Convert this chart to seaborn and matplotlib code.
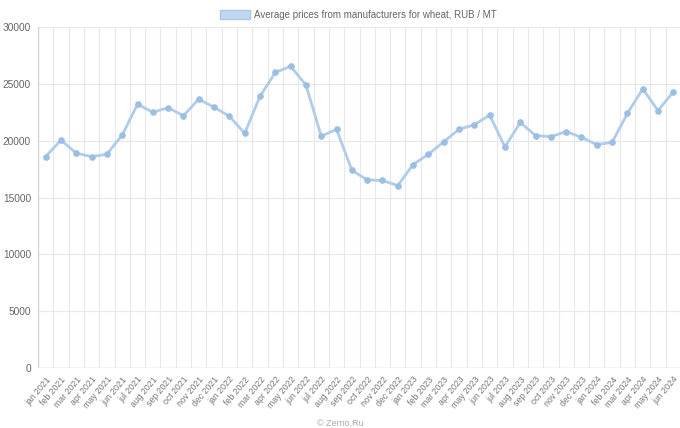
import pandas as pd
import matplotlib
matplotlib.use("Agg")
import matplotlib.pyplot as plt
import matplotlib.patches as mpatches
import seaborn as sns

# data
months = ["jan", "feb", "mar", "apr", "may", "jun", "jul", "aug", "sep", "oct", "nov", "dec"]
labels = [f"{m} {y}" for y in (2021, 2022, 2023) for m in months] + \
         [f"{m} 2024" for m in months[:6]]

prices = [18600, 20050, 18900, 18600, 18800, 20500, 23200, 22500, 22900, 22200, 23650, 22950,
          22150, 20650, 23900, 26000, 26550, 24900, 20400, 21000, 17400, 16550, 16500, 16050,
          17900, 18800, 19900, 21000, 21400, 22250, 19450, 21600, 20450, 20350, 20800, 20300,
          19650, 19850, 22400, 24550, 22650, 24300]

y_ticks = [0, 5000, 10000, 15000, 20000, 25000, 30000]
series_name = "Average prices from manufacturers for wheat, RUB / MT"

df = pd.DataFrame({"pos": range(len(labels)), "month": labels, "price": prices})

sns.set_style("white")
plt.rcParams["font.family"] = ["Liberation Sans", "DejaVu Sans"]

fig = plt.figure(figsize=(6.8, 4.28), dpi=100)
ax = fig.add_axes([38 / 680, 1 - 368 / 428, 643 / 680, 341 / 428])

line_col = "#afcdea"
sns.lineplot(data=df, x="pos", y="price", ax=ax, color=line_col, linewidth=2,
             marker="o", markersize=4, markerfacecolor="#9bbfe4",
             markeredgecolor="#9bbfe4")

n = len(labels)
ax.set_xlim(-0.5, n - 0.5)
ax.set_ylim(0, 30000)
ax.set_xticks(range(n))
ax.set_xticklabels(labels, rotation=50, ha="right", rotation_mode="anchor",
                   fontsize=6.3, color="#777777")
ax.set_yticks(y_ticks)
ax.set_yticklabels([str(v) for v in y_ticks], fontsize=7.3, color="#666666")
ax.tick_params(axis="x", length=0, pad=5)
ax.tick_params(axis="y", length=0, pad=5)
ax.set_xlabel("")
ax.set_ylabel("")

# grid lines between categories, like the original
for b in range(n + 1):
    ax.axvline(b - 0.5, color="#e8e8e8", linewidth=0.8, zorder=0)
for v in y_ticks:
    ax.axhline(v, color="#e8e8e8", linewidth=0.8, zorder=0)
ax.axhline(0, color="#d4d4d4", linewidth=1, zorder=0)
ax.axvline(-0.5, color="#d4d4d4", linewidth=1, zorder=0)

for s in ax.spines.values():
    s.set_visible(False)

# legend at the top
fig.patches.append(mpatches.Rectangle((220 / 680, 1 - 19 / 428), 30 / 680, 9 / 428,
                                      transform=fig.transFigure, facecolor="#c0d8f0",
                                      edgecolor="#a9c9e9", linewidth=1))
fig.text(254 / 680, 1 - 15 / 428, series_name, fontsize=7, color="#666666", va="center")

fig.text(0.5, 1 - 424 / 428, "\u00a9 Zerno.Ru", fontsize=6.5, color="#aaaaaa",
         ha="center", va="center")

fig.savefig("out.png", dpi=100)
